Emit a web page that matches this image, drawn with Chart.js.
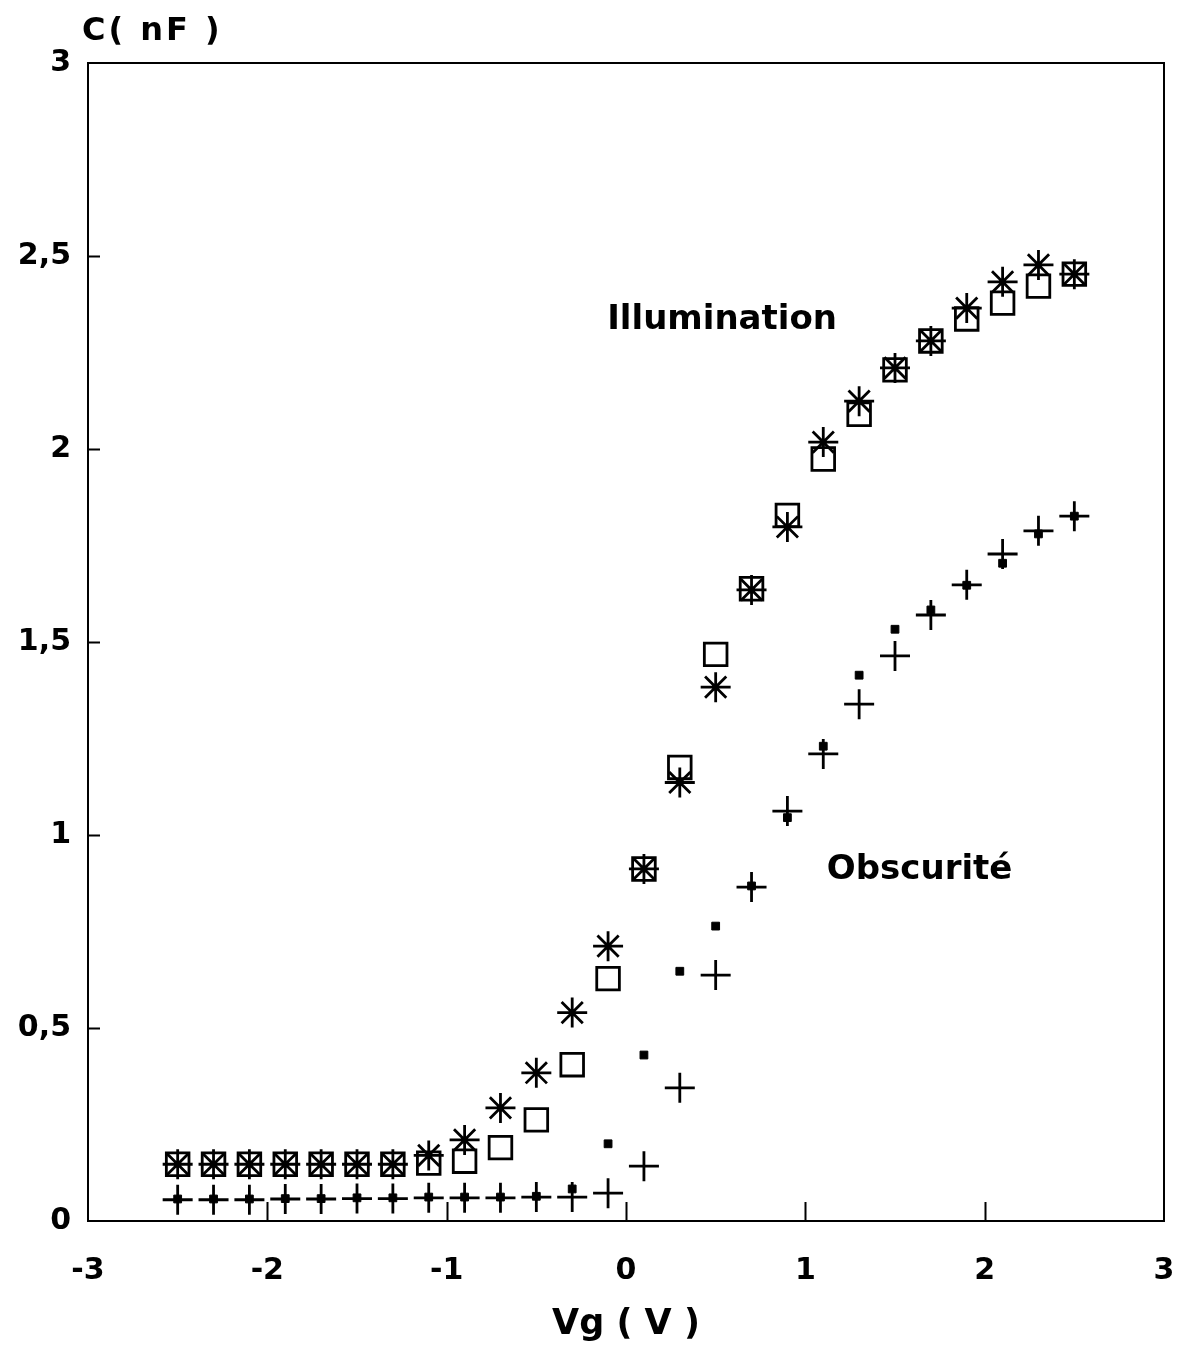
<!DOCTYPE html>
<html>
<head>
<meta charset="utf-8">
<script src="https://cdn.jsdelivr.net/npm/chart.js@4/dist/chart.umd.min.js"></script>
<style>
  html, body { margin: 0; padding: 0; background: #fff; }
  #c { display: block; }
</style>
</head>
<body>
<canvas id="c" width="1192" height="1346" style="width:1192px;height:1346px"></canvas>
<script>
// ---- Data ----
const vg = [-2.5,-2.3,-2.1,-1.9,-1.7,-1.5,-1.3,-1.1,-0.9,-0.7,-0.5,-0.3,-0.1,0.1,0.3,0.5,0.7,0.9,1.1,1.3,1.5,1.7,1.9,2.1,2.3,2.5];
const illumSquares = [0.147,0.147,0.147,0.147,0.147,0.147,0.147,0.15,0.155,0.19,0.262,0.405,0.628,0.912,1.175,1.468,1.638,1.828,1.974,2.09,2.205,2.28,2.337,2.378,2.422,2.453];
const illumStars   = [0.147,0.147,0.147,0.147,0.147,0.147,0.147,0.17,0.21,0.293,0.384,0.54,0.712,0.912,1.136,1.383,1.635,1.798,2.018,2.124,2.21,2.28,2.365,2.433,2.477,2.453];
const darkPlus     = [0.055,0.055,0.055,0.057,0.057,0.058,0.058,0.06,0.06,0.06,0.062,0.062,0.072,0.142,0.345,0.637,0.865,1.062,1.21,1.339,1.464,1.57,1.648,1.728,1.788,1.826];
const darkDots     = [0.057,0.057,0.057,0.058,0.058,0.06,0.06,0.062,0.062,0.062,0.064,0.083,0.2,0.43,0.647,0.764,0.868,1.045,1.23,1.414,1.533,1.583,1.647,1.704,1.78,1.826];

const xTickValues = [-2,-1,0,1,2];
const yTickValues = [0.5,1,1.5,2,2.5];
const xTitle = 'Vg ( V )';
const yTitle = 'C( nF )';
const noteLabels = ['Illumination','Obscurité'];
const noteX = [-0.105, 1.12];
const noteY = [2.312, 0.886];

const pts = (ys) => vg.map((x, i) => ({ x: x, y: ys[i] }));
const FONT = '"DejaVu Sans", "Liberation Sans", sans-serif';

const framePlugin = {
  id: 'frame',
  afterDraw(chart) {
    const { ctx, chartArea: a, scales: { x, y } } = chart;
    ctx.save();
    ctx.strokeStyle = '#000';
    ctx.lineWidth = 2;
    ctx.strokeRect(a.left, a.top, a.right - a.left, a.bottom - a.top);
    ctx.beginPath();
    xTickValues.forEach(v => {
      const px = Math.round(x.getPixelForValue(v)) + 0.5;
      ctx.moveTo(px, a.bottom);
      ctx.lineTo(px, a.bottom - 19);
    });
    yTickValues.forEach(v => {
      const py = Math.round(y.getPixelForValue(v)) + 0.5;
      ctx.moveTo(a.left, py);
      ctx.lineTo(a.left + 12, py);
    });
    ctx.stroke();

    ctx.fillStyle = '#000';
    ctx.textBaseline = 'alphabetic';
    ctx.textAlign = 'left';
    ctx.font = 'bold 32px ' + FONT;
    try { ctx.letterSpacing = '3px'; } catch (e) {}
    ctx.fillText(yTitle, 82, 40);
    try { ctx.letterSpacing = '0px'; } catch (e) {}

    ctx.font = 'bold 34px ' + FONT;
    noteLabels.forEach((t, i) => {
      ctx.fillText(t, x.getPixelForValue(noteX[i]), y.getPixelForValue(noteY[i]));
    });
    ctx.restore();
  }
};

new Chart(document.getElementById('c'), {
  type: 'scatter',
  data: {
    datasets: [
      { label: 'Illumination (carrés)', data: pts(illumSquares), pointStyle: 'rect', pointRadius: 16, pointHoverRadius: 16,
        borderColor: '#000', backgroundColor: 'rgba(0,0,0,0)', pointBorderWidth: 2.8 },
      { label: 'Illumination (étoiles)', data: pts(illumStars), pointStyle: 'star', pointRadius: 15, pointHoverRadius: 15,
        borderColor: '#000', backgroundColor: 'rgba(0,0,0,0)', pointBorderWidth: 2.8 },
      { label: 'Obscurité (croix)', data: pts(darkPlus), pointStyle: 'cross', pointRadius: 15, pointHoverRadius: 15,
        borderColor: '#000', backgroundColor: '#000', pointBorderWidth: 2.8 },
      { label: 'Obscurité (points)', data: pts(darkDots), pointStyle: 'rect', pointRadius: 5.5, pointHoverRadius: 5.5,
        borderColor: '#000', backgroundColor: '#000', pointBorderWidth: 1 }
    ]
  },
  options: {
    responsive: false,
    animation: false,
    events: [],
    layout: { padding: { top: 63, right: 28, left: 0, bottom: 0 } },
    plugins: { legend: { display: false }, tooltip: { enabled: false }, title: { display: false } },
    scales: {
      x: {
        type: 'linear', min: -3, max: 3,
        afterFit(s) { s.height = 125; },
        grid: { display: true, drawOnChartArea: false, drawTicks: true, tickLength: 30, tickColor: 'rgba(0,0,0,0)' },
        border: { display: false },
        ticks: { stepSize: 1, color: '#000', padding: 2, font: { family: FONT, size: 30, weight: 'bold' } },
        title: { display: true, text: xTitle, color: '#000', font: { family: FONT, size: 35, weight: 'bold' }, padding: { top: 0, bottom: 0 } }
      },
      y: {
        type: 'linear', min: 0, max: 3,
        afterFit(s) { s.width = 88; },
        grid: { display: false, drawTicks: false },
        border: { display: false },
        ticks: { stepSize: 0.5, color: '#000', padding: 17, font: { family: FONT, size: 30, weight: 'bold' },
                 callback: v => String(v).replace('.', ',') }
      }
    }
  },
  plugins: [framePlugin]
});
</script>
</body>
</html>
